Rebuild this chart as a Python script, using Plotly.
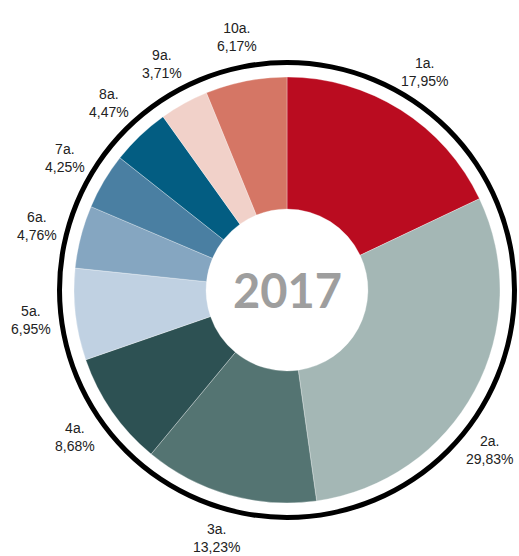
import math
import plotly.graph_objects as go

categories = ["1a.", "2a.", "3a.", "4a.", "5a.", "6a.", "7a.", "8a.", "9a.", "10a."]
values = [17.95, 29.83, 13.23, 8.68, 6.95, 4.76, 4.25, 4.47, 3.71, 6.17]
value_labels = ["17,95%", "29,83%", "13,23%", "8,68%", "6,95%", "4,76%", "4,25%", "4,47%", "3,71%", "6,17%"]
colors = ["#BA0C20", "#A4B7B5", "#547472", "#2D5153", "#C0D1E2",
          "#85A6C1", "#4A7FA2", "#035D82", "#F1D1C9", "#D57665"]
center_label = "2017"

W, H = 519, 556
cx, cy = 287, 290
r_pie, r_ring, ring_w, r_label = 213, 230, 5, 258
label_half_w = 28  # approximate half-width of a label box, to keep it inside the page

def dom(r):
    return dict(x=[(cx - r) / W, (cx + r) / W], y=[1 - (cy + r) / H, 1 - (cy - r) / H])

fig = go.Figure()

# thin black outer ring
fig.add_trace(go.Pie(
    values=[1],
    textinfo="none",
    sort=False,
    hole=(r_ring - ring_w) / r_ring,
    marker=dict(colors=["#000000"], line=dict(color="#000000", width=0)),
    domain=dom(r_ring),
    showlegend=False,
    hoverinfo="skip",
))

# main donut
fig.add_trace(go.Pie(
    values=values,
    labels=categories,
    textinfo="none",
    sort=False,
    direction="clockwise",
    hole=0.38,
    marker=dict(colors=colors, line=dict(color="rgba(255,255,255,0.5)", width=0.6)),
    domain=dom(r_pie),
    showlegend=False,
    hoverinfo="label+percent",
))

# labels placed at each slice's mid-angle on a circle outside the ring;
# a label that would leave the page slides along that circle until it fits
total = sum(values)
cum = 0.0
for cat, v, lab in zip(categories, values, value_labels):
    mid = (cum + v / 2) / total * 2 * math.pi
    cum += v
    dx = r_label * math.sin(mid)
    dy = -r_label * math.cos(mid)
    max_dx = W - 2 - label_half_w - cx
    if dx > max_dx:
        dx = max_dx
        dy = math.copysign(math.sqrt(r_label ** 2 - dx ** 2), dy)
    px, py = cx + dx, cy + dy
    fig.add_annotation(
        text=f"{cat}<br>{lab}",
        x=px / W, y=1 - py / H, xref="paper", yref="paper",
        xanchor="center", yanchor="middle",
        showarrow=False,
        font=dict(family="Liberation Sans, Arial, sans-serif", size=14, color="#222222"),
    )

fig.add_annotation(
    text=f"<b>{center_label}</b>",
    x=cx / W, y=1 - cy / H, xref="paper", yref="paper",
    showarrow=False,
    font=dict(family="Lato, Open Sans, sans-serif", size=47, color="#9E9E9E"),
)

fig.update_layout(
    width=W, height=H,
    margin=dict(l=0, r=0, t=0, b=0),
    paper_bgcolor="white",
    plot_bgcolor="white",
)

fig.write_html("out.html", config={"displayModeBar": False},
               post_script="document.body.style.margin='0';")
